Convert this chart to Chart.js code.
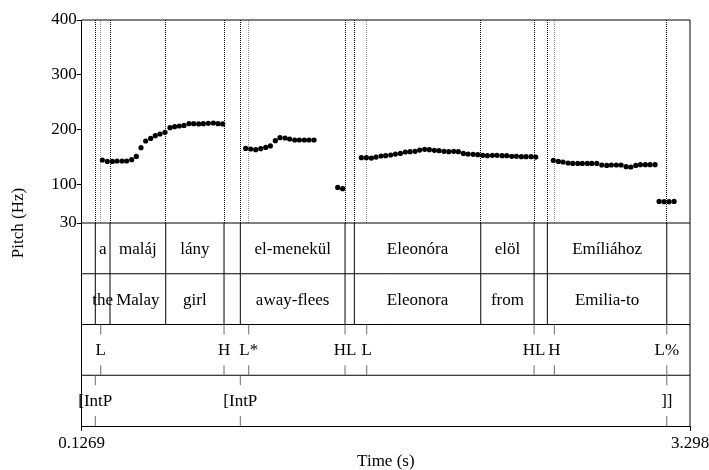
<!DOCTYPE html>
<html><head><meta charset="utf-8">
<script src="https://cdn.jsdelivr.net/npm/chart.js@4.4.1/dist/chart.umd.min.js"></script>
<style>html,body{margin:0;padding:0;background:#fff;}canvas{display:block;}</style>
</head><body>
<canvas id="c" width="709" height="470"></canvas>
<script>
// ---- data ----
const timeMin = 0.1269, timeMax = 3.298;
const xTickLabels = ['0.1269', '3.298'];
const yTicks = [30, 100, 200, 300, 400];

const pitchTime = [
  0.2345,0.2605,0.2866,0.3109,0.3370,0.3614,0.3874,0.4117,0.4361,0.4604,0.4865,0.5108,0.5351,0.5612,0.5873,0.6116,0.6359,0.6603,0.6863,0.7107,0.7367,0.7610,0.7871,0.8132,0.8375,0.8619,
  0.9818,1.0079,1.0340,1.0600,1.0861,1.1104,1.1364,1.1608,1.1869,1.2112,1.2373,1.2616,1.2877,1.3120,1.3381,
  1.4616,1.4876,
  1.5848,1.6109,1.6370,1.6613,1.6874,1.7117,1.7378,1.7621,1.7882,1.8142,1.8386,1.8646,1.8890,1.9150,1.9394,1.9654,1.9898,2.0158,2.0402,2.0662,2.0906,2.1166,2.1410,2.1670,2.1914,2.2174,2.2418,2.2678,2.2922,2.3182,2.3426,2.3686,2.3930,2.4190,2.4434,2.4694,2.4938,
  2.5857,2.6118,2.6363,2.6624,2.6869,2.7129,2.7369,2.7630,2.7860,2.8120,2.8381,2.8642,2.8881,2.9142,2.9387,2.9648,2.9893,3.0154,3.0394,3.0654,3.0899,3.1160,
  3.1368,3.1629,3.1889,3.2150
];
const pitchHz = [
  144.8,142.3,142.3,143.0,143.0,143.0,145.4,151.4,167.3,179.5,184.2,189.1,192.2,195.2,203.7,205.5,206.8,207.9,211.0,211.0,210.5,211.0,211.6,212.3,211.0,210.5,
  166.0,164.9,163.6,165.4,167.8,170.4,180.0,185.5,184.9,183.1,181.3,181.3,181.3,181.3,181.3,
  94.9,92.5,
  149.0,149.0,148.4,150.2,152.1,152.7,153.9,155.7,156.9,159.4,160.0,160.6,163.0,164.2,163.6,162.4,161.8,160.6,160.0,160.6,160.0,156.9,155.7,155.1,154.5,153.3,152.7,153.3,153.3,152.7,152.7,151.5,151.5,150.9,150.9,150.9,150.2,
  144.1,142.3,141.2,139.4,138.6,138.6,138.6,138.6,138.6,138.6,135.7,135.0,135.7,135.7,135.7,132.6,132.1,135.0,136.3,136.3,136.3,136.3,
  69.4,68.8,68.8,69.4
];

// interval tiers (tier 1 words, tier 2 glosses) share boundaries
const wordBounds = [0.1978, 0.2745, 0.5649, 0.8688, 0.9538, 1.4997, 1.5482, 2.2072, 2.4851, 2.5544, 3.1770];
const words   = ['', 'a', 'maláj', 'lány', '', 'el-menekül', '', 'Eleonóra', 'elöl', '', 'Emíliához', ''];
const glosses = ['', 'the', 'Malay', 'girl', '', 'away-flees', '', 'Eleonora', 'from', '', 'Emilia-to', ''];
// point tiers
const toneTimes = [0.2260, 0.8688, 0.9976, 1.4997, 1.6128, 2.4851, 2.5909, 3.1770];
const tones     = ['L', 'H', 'L*', 'HL', 'L', 'HL', 'H', 'L%'];
const phraseTimes = [0.1978, 0.9538, 3.1770];
const phrases     = ['[IntP', '[IntP', ']]'];

// ---- drawing ----
const FONT = "'Liberation Serif', 'Times New Roman', serif";
Chart.defaults.font.family = FONT;
Chart.defaults.font.size = 17;
Chart.defaults.color = '#000';

const pitchTop = 400, pitchBottom = 30;
const yMinAll = pitchBottom - (pitchTop - pitchBottom); // tiers take same height as pitch area
const snap = v => Math.round(v - 0.5) + 0.5;

const tierPlugin = {
  id: 'tiers',
  beforeDatasetsDraw(chart) {
    const {ctx, scales: {x, y}} = chart;
    const yT = y.getPixelForValue(pitchTop), yB = y.getPixelForValue(pitchBottom);
    ctx.save();
    ctx.lineWidth = 1;
    ctx.setLineDash([1, 1]);
    ctx.strokeStyle = '#8c8c8c';
    toneTimes.concat(phraseTimes).forEach(t => {
      const px = snap(x.getPixelForValue(t));
      ctx.beginPath(); ctx.moveTo(px, yT); ctx.lineTo(px, yB); ctx.stroke();
    });
    ctx.strokeStyle = '#000';
    wordBounds.forEach(t => {
      const px = snap(x.getPixelForValue(t));
      ctx.beginPath(); ctx.moveTo(px, yT); ctx.lineTo(px, yB); ctx.stroke();
    });
    ctx.restore();
  },
  afterDatasetsDraw(chart) {
    const {ctx, chartArea: a, scales: {x, y}} = chart;
    const yB = y.getPixelForValue(pitchBottom);
    const h = (a.bottom - yB) / 4;
    ctx.save();
    ctx.lineWidth = 1;
    ctx.strokeStyle = '#000';
    // frame top & right
    ctx.beginPath();
    ctx.moveTo(a.left, a.top); ctx.lineTo(a.right, a.top); ctx.lineTo(a.right, a.bottom);
    ctx.stroke();
    // tier separators
    for (let k = 0; k < 4; k++) {
      const yy = yB + k * h;
      ctx.beginPath(); ctx.moveTo(a.left, yy); ctx.lineTo(a.right, yy); ctx.stroke();
    }
    // interval boundaries
    wordBounds.forEach(t => {
      const px = x.getPixelForValue(t);
      ctx.beginPath(); ctx.moveTo(px, yB); ctx.lineTo(px, yB + 2 * h); ctx.stroke();
    });
    ctx.font = '17px ' + FONT;
    ctx.fillStyle = '#000';
    ctx.textAlign = 'center';
    ctx.textBaseline = 'middle';
    const edges = [timeMin].concat(wordBounds, [timeMax]);
    [words, glosses].forEach((labels, tier) => {
      labels.forEach((s, i) => {
        if (!s) return;
        const cx = (x.getPixelForValue(edges[i]) + x.getPixelForValue(edges[i + 1])) / 2;
        ctx.fillText(s, cx, yB + h * (tier + 0.5) + 1);
      });
    });
    // point tiers
    ctx.strokeStyle = '#6e6e6e';
    [[toneTimes, tones], [phraseTimes, phrases]].forEach(([times, labels], j) => {
      const tier = 2 + j;
      const top = yB + tier * h, bot = top + h;
      times.forEach((t, i) => {
        const px = x.getPixelForValue(t);
        ctx.beginPath();
        ctx.moveTo(px, top); ctx.lineTo(px, top + 10);
        ctx.moveTo(px, bot - 10); ctx.lineTo(px, bot);
        ctx.stroke();
        ctx.fillText(labels[i], px, top + h / 2 + 1);
      });
    });
    ctx.restore();
  }
};

new Chart(document.getElementById('c'), {
  type: 'scatter',
  data: {
    datasets: [{
      data: pitchTime.map((t, i) => ({x: t, y: pitchHz[i]})),
      pointRadius: 2.6,
      pointBackgroundColor: '#000',
      pointBorderWidth: 0,
      showLine: false
    }]
  },
  options: {
    responsive: false,
    animation: false,
    devicePixelRatio: 1,
    layout: {padding: {top: 20, right: 19, left: 0, bottom: 0}},
    plugins: {legend: {display: false}, tooltip: {enabled: false}},
    scales: {
      x: {
        type: 'linear', min: timeMin, max: timeMax,
        afterBuildTicks: s => { s.ticks = [timeMin, timeMax].map(v => ({value: v})); },
        afterFit: s => { s.height = 44; s.paddingLeft = 0; s.paddingRight = 0; },
        grid: {drawOnChartArea: false, drawTicks: true, tickLength: 5, color: '#000'},
        border: {display: true, color: '#000', width: 1},
        ticks: {autoSkip: false, maxRotation: 0, padding: 2, font: {size: 17},
                callback: (v, i) => xTickLabels[i]},
        title: {display: true, text: 'Time (s)', font: {size: 17, lineHeight: 1}, padding: {top: 0, bottom: 0}}
      },
      y: {
        type: 'linear', min: yMinAll, max: pitchTop,
        afterBuildTicks: s => { s.ticks = yTicks.map(v => ({value: v})); },
        afterFit: s => { s.width = 81.7; s.paddingTop = 0; s.paddingBottom = 0; },
        grid: {drawOnChartArea: false, drawTicks: true, tickLength: 5, color: '#000'},
        border: {display: true, color: '#000', width: 1},
        ticks: {autoSkip: false, padding: 0, font: {size: 17}, callback: v => String(v)},
        title: {display: true, text: 'Pitch (Hz)', font: {size: 17, lineHeight: 1}, padding: {top: 10, bottom: 0}}
      }
    }
  },
  plugins: [tierPlugin]
});
</script>
</body></html>
